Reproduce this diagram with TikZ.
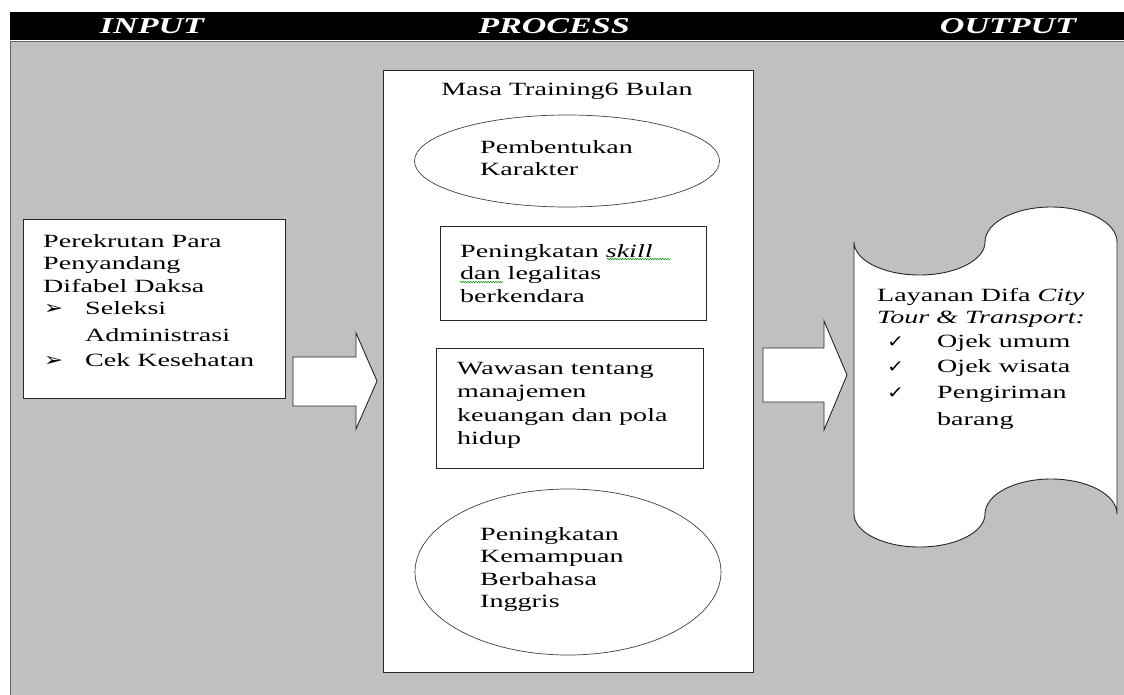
\documentclass[tikz,border=0pt]{standalone}
\usepackage{fontspec}
\setmainfont{Liberation Serif}
\newfontfamily\wide[FakeStretch=1.5]{Liberation Serif}
\newfontfamily\sym[FakeStretch=1.2]{DejaVu Sans}
\usetikzlibrary{shapes.geometric, decorations.pathmorphing}
\definecolor{panel}{HTML}{C0C0C0}
\newcommand{\bodyfont}{\wide\fontsize{18.7}{22.5}\selectfont}
\newcommand{\headfont}{\wide\bfseries\itshape\fontsize{22.7}{26}\selectfont}
\newcommand{\pointer}{\makebox[42pt][l]{\hspace{1pt}\sym\fontsize{19}{19}\selectfont ➢}}
\newcommand{\tick}{\makebox[60pt][l]{\hspace{10pt}\sym\fontsize{17}{17}\selectfont ✓}}
\tikzstyle{head} = [text=white, inner sep=0pt, anchor=base, font=\headfont]
\tikzstyle{box} = [draw=black!85, fill=white, line width=0.9pt, inner sep=0pt, anchor=north west]
\tikzstyle{oval} = [ellipse, draw=black!75, fill=white, line width=0.7pt, inner sep=0pt]
\tikzstyle{txt} = [inner sep=0pt, align=left, anchor=north west, font=\bodyfont]
\tikzstyle{fat} = [draw=black!85, fill=white, line width=0.9pt]
\tikzstyle{spell} = [draw=green!55!black, line width=0.5pt, decorate, decoration={snake, amplitude=0.7pt, segment length=2.5pt}]
\begin{document}
\begin{tikzpicture}[x=1pt, y=-1pt]
    \useasboundingbox (0,0) rectangle (1124,694);
    \clip (0,0) rectangle (1124,694);

    % panel and title bar
    \draw[draw=black!60, fill=panel, line width=0.9pt] (10,41) rectangle (1140,710);
    \fill[black] (10,12) rectangle (1140,40);
    \node[head] (hin) at (152,33) {INPUT};
    \node[head] (hproc) at (554,33) {PROCESS};
    \node[head] (hout) at (1008,33) {OUTPUT};

    % input
    \node[box, minimum width=262pt, minimum height=179pt] (inbox) at (23,219) {};
    \node[txt] (intext) at (43,234) {Perekrutan Para\\Penyandang\\Difabel Daksa\\\pointer Seleksi\\[4pt]\makebox[42pt]{}Administrasi\\[3pt]\pointer Cek Kesehatan};
    \draw[fat] (293,357) -- (356,357) -- (356,333) -- (377,381) -- (356,429) -- (356,406) -- (293,406) -- cycle;

    % process
    \node[box, minimum width=370pt, minimum height=602pt] (procbox) at (383,70) {};
    \node[font=\bodyfont, inner sep=0pt, anchor=base] (proctitle) at (567,95) {Masa Training6 Bulan};
    \node[oval, minimum width=305pt, minimum height=92pt] (char) at (567,161) {};
    \node[txt] (chartext) at (480,140) {Pembentukan\\Karakter};
    \node[box, minimum width=266pt, minimum height=94pt] (skill) at (440,226) {};
    \node[txt] (skilltext) at (460,244) {Peningkatan \textit{skill}\\dan legalitas\\berkendara};
    \draw[spell] (607,259) -- (671,259);
    \draw[spell] (460,282) -- (503,282);
    \node[box, minimum width=267pt, minimum height=120pt] (money) at (436,348) {};
    \node[txt] (moneytext) at (457,362) {Wawasan tentang\\[1pt]manajemen\\[1pt]keuangan dan pola\\[1pt]hidup};
    \node[oval, minimum width=306pt, minimum height=166pt] (lang) at (568,572) {};
    \node[txt] (langtext) at (480,527) {Peningkatan\\Kemampuan\\Berbahasa\\Inggris};
    \draw[fat] (763,348) -- (824,348) -- (824,321) -- (847,375) -- (824,430) -- (824,402) -- (763,402) -- cycle;

    % output scroll
    \draw[fat] (854,242) arc[start angle=180, end angle=0, x radius=65.5, y radius=33]
        arc[start angle=180, end angle=360, x radius=66, y radius=35] -- (1117,514)
        arc[start angle=0, end angle=-180, x radius=66, y radius=35]
        arc[start angle=0, end angle=180, x radius=65.5, y radius=33] -- cycle;
    \node[txt] (outtext) at (877,288) {Layanan Difa \textit{City}\\\textit{Tour \& Transport:}\\[1.5pt]\tick Ojek umum\\[2.5pt]\tick Ojek wisata\\[3.5pt]\tick Pengiriman\\[4.5pt]\makebox[60pt]{}barang};
\end{tikzpicture}
\end{document}
